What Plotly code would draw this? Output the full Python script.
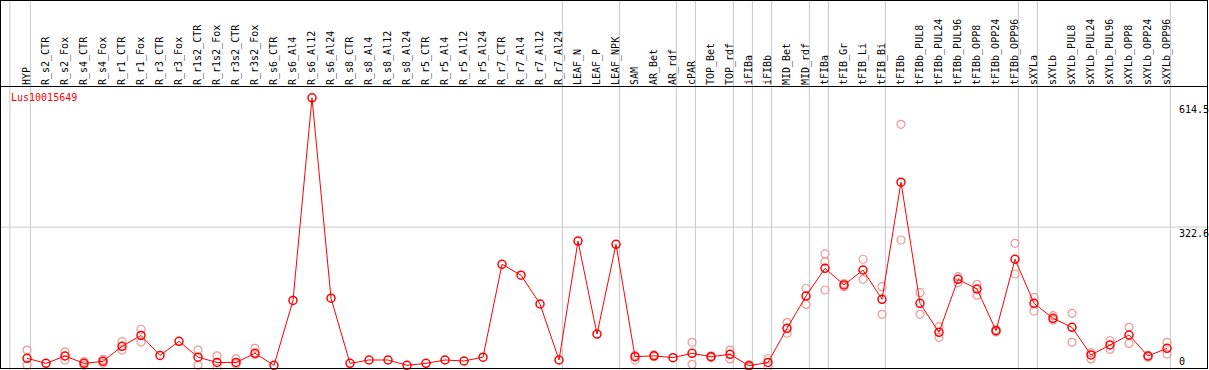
import plotly.graph_objects as go

W, H = 1209, 370

categories = ["HYP", "R_s2_CTR", "R_s2_Fox", "R_s4_CTR", "R_s4_Fox", "R_r1_CTR", "R_r1_Fox",
              "R_r3_CTR", "R_r3_Fox", "R_r1s2_CTR", "R_r1s2_Fox", "R_r3s2_CTR", "R_r3s2_Fox",
              "R_s6_CTR", "R_s6_Al4", "R_s6_Al12", "R_s6_Al24", "R_s8_CTR", "R_s8_Al4", "R_s8_Al12",
              "R_s8_Al24", "R_r5_CTR", "R_r5_Al4", "R_r5_Al12", "R_r5_Al24", "R_r7_CTR", "R_r7_Al4",
              "R_r7_Al12", "R_r7_Al24", "LEAF_N", "LEAF_P", "LEAF_NPK", "SAM", "AR_Bet", "AR_rdf",
              "cPAR", "TOP_Bet", "TOP_rdf", "iFIBa", "iFIBb", "MID_Bet", "MID_rdf", "tFIBa",
              "tFIB_Gr", "tFIB_Li", "tFIB_Bi", "tFIBb", "tFIBb_PUL8", "tFIBb_PUL24", "tFIBb_PUL96",
              "tFIBb_OPP8", "tFIBb_OPP24", "tFIBb_OPP96", "sXYLa", "sXYLb", "sXYLb_PUL8",
              "sXYLb_PUL24", "sXYLb_PUL96", "sXYLb_OPP8", "sXYLb_OPP24", "sXYLb_OPP96"]

mean_values = [26.4, 15, 31.6, 15, 19.6, 53.5, 78, 33, 64.7, 29, 17, 17, 37.6,
               10.6, 157, 614.5, 162, 15, 22.6, 22.6, 10.6, 15, 22.6, 20.3, 29,
               238.6, 214, 149, 22.6, 291, 81, 283.7, 30, 32, 27.8, 37.6, 30, 35.4,
               9.7, 17, 94, 167, 229.5, 192, 225.7, 159.6, 424, 150.5, 85, 204.7,
               182.8, 88.8, 250, 150.5, 116.6, 96.3, 33.9, 56.4, 79, 31.6, 49]

rep_a = [45, None, 41, 11, 15, 64, 92, None, None, 45, 32, 25, 49,
         None, None, None, None, None, None, None, None, None, None, None, None,
         None, None, None, None, None, None, None, 22.6, 34, None, 62.5, 32, 45,
         12, 26, 107, 184, 262, 195, 250, 188, 554.6, 174.5, 97.8, 210.6,
         193, 91, 286, 164, 122.6, 128, 39, 66, 96.3, 33, 62.5]

rep_b = [11, None, 22.6, 19, 24, 45, 63, None, None, 11, 4, 13.5, 35,
         None, None, None, None, None, None, None, None, None, None, None, None,
         None, None, None, None, None, None, None, 33, 30, None, 12.8, 28, 25,
         7, 7.5, 83, 148, 244.5, 188, 204.7, 125.7, 293.5, 125.7, 73.8, 197,
         169, 86, 216.7, 133, 113, 62.5, 25, 46.7, 60, 29, 36]

rep_c = [None] * 42 + [180.6] + [None] * 18

# groups are separated after these categories
separator_after = ["HYP", "R_r7_Al24", "LEAF_NPK", "AR_rdf", "cPAR", "TOP_rdf", "iFIBa",
                   "iFIBb", "MID_rdf", "tFIBa", "tFIB_Bi", "tFIBb_OPP96", "sXYLa", "sXYLb_OPP96"]

y_tick_values = [0, 322.6, 614.5]
y_grid_values = [322.6]
gene_name = "Lus10015649"

FONT = "DejaVu Sans Mono"
idx = list(range(len(categories)))

# pixel geometry
X0, DX = 27, 19           # first category pixel, category spacing
Y0, DY = 370, 0.443       # pixel of value 0, pixels per unit
HEADER = 86               # header separator line

def px(x):
    return x / W

def py(y):
    return 1 - y / H

fig = go.Figure()

pink = "#f09696"
for reps in (rep_a, rep_b, rep_c):
    fig.add_trace(go.Scatter(
        x=idx, y=reps, mode="markers", cliponaxis=False, hoverinfo="skip",
        marker=dict(symbol="circle-open", size=8, color=pink, line=dict(width=1.2, color=pink)),
        showlegend=False))

fig.add_trace(go.Scatter(
    x=idx, y=mean_values, mode="lines+markers", cliponaxis=False,
    line=dict(color="#ff0000", width=1),
    marker=dict(symbol="circle-open", size=8, color="#ff0000", line=dict(width=1.5, color="#ff0000")),
    showlegend=False))

shapes = []
# vertical group separators
sep_positions = [-0.9] + [categories.index(c) + 0.18 for c in separator_after]
for s in sep_positions:
    shapes.append(dict(type="line", xref="x", yref="paper", x0=s, x1=s, y0=0, y1=1,
                       line=dict(color="#c8c8c8", width=1), layer="below"))
# horizontal grid
for g in y_grid_values:
    shapes.append(dict(type="line", xref="paper", yref="y", x0=0, x1=1, y0=g, y1=g,
                       line=dict(color="#c8c8c8", width=1), layer="below"))
# frame
blk = dict(color="black", width=1)
shapes += [
    dict(type="line", xref="paper", yref="paper", x0=px(0.5), x1=px(0.5), y0=py(0), y1=py(369), line=blk),
    dict(type="line", xref="paper", yref="paper", x0=px(1207.5), x1=px(1207.5), y0=py(0), y1=py(369), line=blk),
    dict(type="line", xref="paper", yref="paper", x0=px(0), x1=px(1208), y0=py(0.5), y1=py(0.5), line=blk),
    dict(type="line", xref="paper", yref="paper", x0=px(0), x1=px(1208), y0=py(368.5), y1=py(368.5), line=blk),
    dict(type="line", xref="paper", yref="paper", x0=px(0), x1=px(1208), y0=py(HEADER + 0.5), y1=py(HEADER + 0.5), line=blk),
]

annotations = [dict(text=gene_name, x=px(9), y=py(97), xref="paper", yref="paper",
                    xanchor="left", yanchor="middle", showarrow=False,
                    font=dict(family=FONT, size=10, color="#ff0000"))]
for v in y_tick_values:
    if v == 0:
        annotations.append(dict(text="0", x=px(1177), y=v, xref="paper", yref="y",
                                xanchor="left", yanchor="bottom", yshift=1, showarrow=False,
                                font=dict(family=FONT, size=10, color="black")))
    else:
        annotations.append(dict(text=f"{v}", x=px(1177), y=v, xref="paper", yref="y",
                                xanchor="left", yanchor="top", showarrow=False,
                                yshift=(-4 if v == max(y_tick_values) else 1),
                                font=dict(family=FONT, size=10, color="black")))

xmin = (0 - X0) / DX
xmax = (W - X0) / DX
ymax = (Y0 - HEADER) / DY

fig.update_layout(
    width=W, height=H, margin=dict(l=0, r=0, t=0, b=0),
    paper_bgcolor="white", plot_bgcolor="white",
    shapes=shapes, annotations=annotations,
    xaxis=dict(range=[xmin, xmax], tickvals=idx, ticktext=categories, side="top",
               tickangle=-90, showgrid=False, zeroline=False, showline=False, ticks="",
               tickfont=dict(family=FONT, size=10, color="black")),
    yaxis=dict(domain=[0, py(HEADER)], range=[0, ymax], showgrid=False, zeroline=False,
               showticklabels=False, ticks=""),
)

fig.write_html("out.html", config={"displayModeBar": False},
               post_script="document.body.style.margin='0';")
